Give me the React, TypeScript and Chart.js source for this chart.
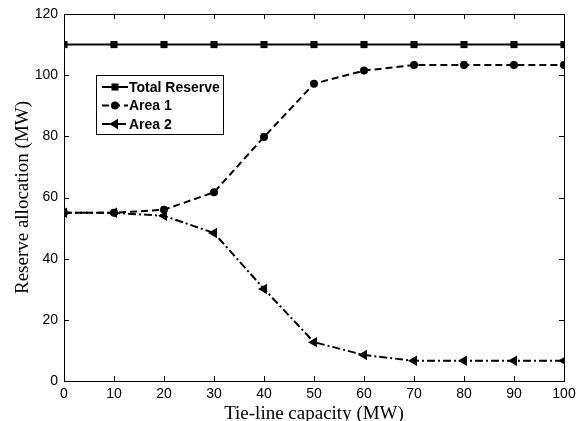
import { useEffect, useRef } from 'react';
import { Chart, registerables } from 'chart.js';
Chart.register(...registerables);

const capacity = [0, 10, 20, 30, 40, 50, 60, 70, 80, 90, 100];
const totalReserve = [110, 110, 110, 110, 110, 110, 110, 110, 110, 110, 110];
const area1 = [55, 55, 56, 61.7, 79.8, 97.2, 101.5, 103.3, 103.3, 103.3, 103.3];
const area2 = [55, 55, 54, 48.4, 30.1, 12.7, 8.5, 6.6, 6.6, 6.6, 6.6];
const xTicks = [0, 10, 20, 30, 40, 50, 60, 70, 80, 90, 100];
const yTicks = [0, 20, 40, 60, 80, 100, 120];
const xTitle = 'Tie-line capacity (MW)';
const yTitle = 'Reserve allocation (MW)';

const SANS = '"Liberation Sans", Arial, sans-serif';
const SERIF = '"Liberation Serif", "Times New Roman", serif';

const toPts = (ys: number[]) => capacity.map((x, i) => ({ x, y: ys[i] }));

function drawMarker(ctx: CanvasRenderingContext2D, style: string, x: number, y: number, r: number, rot: number) {
  ctx.beginPath();
  if (style === 'rect') {
    const s = r * Math.SQRT2;
    ctx.rect(x - s / 2, y - s / 2, s, s);
  } else if (style === 'circle') {
    ctx.arc(x, y, r, 0, Math.PI * 2);
  } else if (style === 'triangle') {
    const rad = (rot * Math.PI) / 180;
    for (let k = 0; k < 3; k++) {
      const ang = rad + k * (2 * Math.PI / 3);
      const px = x + Math.sin(ang) * r;
      const py = y - Math.cos(ang) * r;
      if (k === 0) ctx.moveTo(px, py); else ctx.lineTo(px, py);
    }
    ctx.closePath();
  }
  ctx.fill();
}

const framePlugin = {
  id: 'frame',
  afterDatasetsDraw(chart: any) {
    const { ctx, chartArea: a, scales } = chart;
    const xs = scales.x, ys = scales.y;
    ctx.save();
    ctx.strokeStyle = '#000';
    ctx.lineWidth = 1;
    ctx.setLineDash([]);
    ctx.strokeRect(a.left + 0.5, a.top + 0.5, a.right - a.left, a.bottom - a.top);
    const tl = 5;
    ctx.beginPath();
    xTicks.forEach((v) => {
      const p = Math.round(xs.getPixelForValue(v)) + 0.5;
      ctx.moveTo(p, a.bottom);
      ctx.lineTo(p, a.bottom - tl);
      ctx.moveTo(p, a.top);
      ctx.lineTo(p, a.top + tl);
    });
    yTicks.forEach((v) => {
      const p = Math.round(ys.getPixelForValue(v)) + 0.5;
      ctx.moveTo(a.left, p);
      ctx.lineTo(a.left + tl, p);
      ctx.moveTo(a.right, p);
      ctx.lineTo(a.right - tl, p);
    });
    ctx.stroke();

    // axis titles
    ctx.fillStyle = '#000';
    ctx.font = `19px ${SERIF}`;
    ctx.textAlign = 'center';
    ctx.textBaseline = 'alphabetic';
    ctx.fillText(xTitle, (a.left + a.right) / 2, a.bottom + 38);
    ctx.save();
    ctx.translate(28, (a.top + a.bottom) / 2);
    ctx.rotate(-Math.PI / 2);
    ctx.fillText(yTitle, 0, 0);
    ctx.restore();

    // legend
    const bx = a.left + 32, by = a.top + 61, bw = 127, bh = 59;
    ctx.fillStyle = '#fff';
    ctx.fillRect(bx, by, bw, bh);
    ctx.strokeStyle = '#000';
    ctx.lineWidth = 1;
    ctx.strokeRect(bx + 0.5, by + 0.5, bw, bh);
    chart.data.datasets.forEach((ds: any, i: number) => {
      const cy = by + 12 + i * 18.5;
      const x0 = bx + 6, x1 = bx + 32;
      ctx.save();
      ctx.strokeStyle = '#000';
      ctx.lineWidth = 2;
      ctx.setLineDash(ds.borderDash || []);
      ctx.beginPath();
      ctx.moveTo(x0, cy);
      ctx.lineTo(x1, cy);
      ctx.stroke();
      ctx.setLineDash([]);
      ctx.fillStyle = '#000';
      drawMarker(ctx, ds.pointStyle, (x0 + x1) / 2, cy, ds.pointRadius, ds.pointRotation || 0);
      ctx.restore();
      ctx.fillStyle = '#000';
      ctx.font = `bold 14px ${SANS}`;
      ctx.textAlign = 'left';
      ctx.textBaseline = 'middle';
      ctx.fillText(ds.label, x1 + 1, cy + 1);
    });
    ctx.restore();
  },
};

export default function App() {
  const ref = useRef<HTMLCanvasElement | null>(null);
  useEffect(() => {
    if (!ref.current) return;
    const chart = new Chart(ref.current, {
      type: 'line',
      data: {
        datasets: [
          {
            label: 'Total Reserve',
            data: toPts(totalReserve),
            borderColor: '#000',
            backgroundColor: '#000',
            borderWidth: 2,
            pointStyle: 'rect',
            pointRadius: 5,
            pointBorderWidth: 0,
          },
          {
            label: 'Area 1',
            data: toPts(area1),
            borderColor: '#000',
            backgroundColor: '#000',
            borderWidth: 2,
            borderDash: [7, 4],
            pointStyle: 'circle',
            pointRadius: 4,
            pointBorderWidth: 0,
          },
          {
            label: 'Area 2',
            data: toPts(area2),
            borderColor: '#000',
            backgroundColor: '#000',
            borderWidth: 2,
            borderDash: [8, 3, 2, 3],
            pointStyle: 'triangle',
            pointRotation: -90,
            pointRadius: 6,
            pointBorderWidth: 0,
          },
        ] as any,
      },
      options: {
        animation: false,
        responsive: true,
        maintainAspectRatio: false,
        layout: { padding: { left: 0, right: 16, top: 14, bottom: 0 } },
        plugins: { legend: { display: false }, tooltip: { enabled: false } },
        scales: {
          x: {
            type: 'linear',
            min: 0,
            max: 100,
            grid: { display: false, drawTicks: false },
            border: { display: false },
            ticks: {
              stepSize: 10,
              color: '#000',
              padding: 5,
              maxRotation: 0,
              font: { family: SANS, size: 14 },
            },
            afterFit: (s: any) => {
              s.height = 40;
              s.paddingLeft = 0;
              s.paddingRight = 0;
            },
          },
          y: {
            type: 'linear',
            min: 0,
            max: 120,
            grid: { display: false, drawTicks: false },
            border: { display: false },
            ticks: {
              stepSize: 20,
              color: '#000',
              padding: 6,
              font: { family: SANS, size: 14 },
            },
            afterFit: (s: any) => {
              s.width = 64;
              s.paddingTop = 0;
              s.paddingBottom = 0;
            },
          },
        },
      },
      plugins: [framePlugin],
    });
    return () => chart.destroy();
  }, []);
  return (
    <div style={{ position: 'fixed', left: 0, top: 0, width: 580, height: 421, background: '#fff' }}>
      <canvas ref={ref} />
    </div>
  );
}
